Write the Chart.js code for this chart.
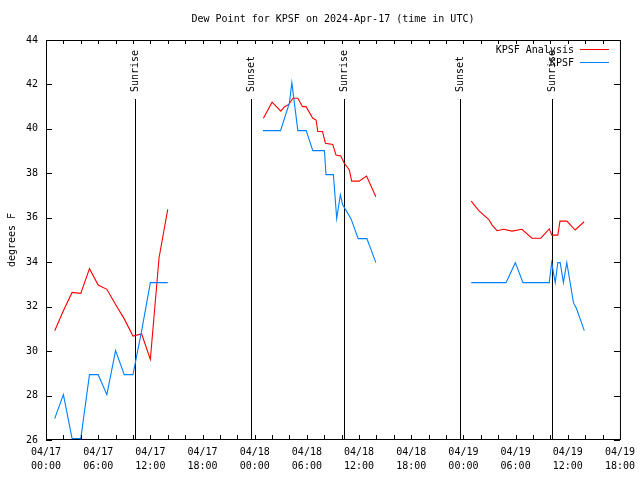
<!DOCTYPE html>
<html>
<head>
<meta charset="utf-8">
<script src="https://cdn.jsdelivr.net/npm/chart.js@4/dist/chart.umd.min.js"></script>
<style>
html,body{margin:0;padding:0;background:#fff;}
#wrap{width:640px;height:480px;}
canvas{display:block;}
</style>
</head>
<body>
<div id="wrap"><canvas id="c" width="640" height="480"></canvas></div>
<script>
// ---------------- data ----------------
const chartTitle = 'Dew Point for KPSF on 2024-Apr-17 (time in UTC)';
const yAxisTitle = 'degrees F';
const analysisLabel = 'KPSF Analysis';
const obsLabel = 'KPSF';

// hours since 04/17 00:00 UTC ; null value = gap in the line
const analysisHours = [1,2,3,4,5,6,7,8,9,10,11,12,13,14,
  19,
  25,26,27,27.43,27.93,28.39,28.96,29.5,29.9,30.68,31.06,31.25,31.8,32.13,32.97,33.35,33.9,34.3,34.88,35.15,36.0,36.86,37.93,
  43,
  48.9,49.77,50.34,50.9,51.3,51.87,52.63,53.59,54.73,55.88,56.9,57.87,58.17,58.86,59.1,59.9,60.85,61.88];
const analysisDewF = [30.92,31.82,32.64,32.6,33.71,32.97,32.78,32.1,31.45,30.68,30.77,29.63,34.2,36.38,
  null,
  40.48,41.2,40.8,41.0,41.1,41.38,41.38,41.0,41.0,40.48,40.4,39.88,39.88,39.35,39.3,38.82,38.78,38.45,38.15,37.65,37.65,37.88,36.95,
  null,
  36.75,36.32,36.12,35.93,35.67,35.42,35.48,35.4,35.48,35.08,35.08,35.5,35.22,35.22,35.85,35.85,35.45,35.82];

const obsHours = [1,2,3,4,5,6,7,8,9,10,11,12,13,14,
  19,
  24.95,26.97,28.0,28.27,28.96,29.92,30.68,32.02,32.2,33.05,33.43,33.85,34.1,35.07,35.9,36.9,37.93,
  43,
  48.9,52.9,53.97,54.85,57.87,58.15,58.56,58.85,59.13,59.5,59.89,60.65,61.0,61.9];
const obsDewF = [26.96,28.04,26.06,26.06,28.94,28.94,28.04,30.02,28.94,28.94,30.92,33.08,33.08,33.08,
  null,
  39.92,39.92,41.18,42.08,39.92,39.92,39.02,39.02,37.94,37.94,35.96,37.04,36.6,35.96,35.06,35.06,33.98,
  null,
  33.08,33.08,33.98,33.08,33.08,33.98,33.08,33.98,33.98,33.08,33.98,32.18,31.92,30.92];

const eventLabels = ['Sunrise','Sunset','Sunrise','Sunset','Sunrise'];
const eventHours = [10.25, 23.61, 34.24, 47.56, 58.23];

const xTickHours = [0,6,12,18,24,30,36,42,48,54,60,66];
const xTickDates = ['04/17','04/17','04/17','04/17','04/18','04/18','04/18','04/18','04/19','04/19','04/19','04/19'];
const xTickTimes = ['00:00','06:00','12:00','18:00','00:00','06:00','12:00','18:00','00:00','06:00','12:00','18:00'];
const xMinorStep = 2;
const yTickValues = [26,28,30,32,34,36,38,40,42,44];

// ---------------- chart ----------------
const FONT_FAMILY = "'DejaVu Sans Mono', monospace";
Chart.defaults.font.family = FONT_FAMILY;
Chart.defaults.font.size = 10;
Chart.defaults.color = '#000';

function toPoints(xs, ys) { return xs.map((x, i) => ({ x: x, y: ys[i] })); }

const gnuplotFrame = {
  id: 'gnuplotFrame',
  beforeDraw(chart) {
    const ctx = chart.ctx;
    ctx.save();
    ctx.fillStyle = '#fff';
    ctx.fillRect(0, 0, chart.width, chart.height);
    ctx.restore();
  },
  beforeDatasetsDraw(chart) {
    const { ctx, chartArea: a, scales: { x } } = chart;
    ctx.save();
    ctx.strokeStyle = '#000';
    ctx.lineWidth = 1;
    ctx.fillStyle = '#000';
    ctx.font = '10px ' + FONT_FAMILY;
    // title centred over the plot area
    ctx.textAlign = 'center';
    ctx.textBaseline = 'middle';
    ctx.fillText(chartTitle, (a.left + a.right) / 2, a.top - 21);
    eventHours.forEach((h, i) => {
      const px = Math.round(x.getPixelForValue(h)) + 0.5;
      ctx.beginPath();
      ctx.moveTo(px, a.top + 59);
      ctx.lineTo(px, a.bottom);
      ctx.stroke();
      ctx.save();
      ctx.translate(px, a.top + 52);
      ctx.rotate(-Math.PI / 2);
      ctx.textAlign = 'left';
      ctx.textBaseline = 'middle';
      ctx.fillText(eventLabels[i], 0, 0);
      ctx.restore();
    });
    ctx.restore();
  },
  afterDatasetsDraw(chart) {
    const { ctx, chartArea: a, scales: { x, y } } = chart;
    ctx.save();
    ctx.strokeStyle = '#000';
    ctx.lineWidth = 1;
    // frame
    ctx.strokeRect(a.left + 0.5, a.top + 0.5, a.right - a.left, a.bottom - a.top - 1);
    // x ticks (inward, top & bottom)
    ctx.beginPath();
    for (let h = x.min; h <= x.max; h += xMinorStep) {
      const px = Math.round(x.getPixelForValue(h)) + 0.5;
      ctx.moveTo(px, a.bottom); ctx.lineTo(px, a.bottom - 5);
      ctx.moveTo(px, a.top); ctx.lineTo(px, a.top + 4);
    }
    // y ticks (inward, left & right)
    yTickValues.forEach(v => {
      const py = Math.round(y.getPixelForValue(v)) + 0.5;
      ctx.moveTo(a.left, py); ctx.lineTo(a.left + 6, py);
      ctx.moveTo(a.right, py); ctx.lineTo(a.right - 6, py);
    });
    ctx.stroke();
    // legend (gnuplot style, text then sample line)
    ctx.font = '10px ' + FONT_FAMILY;
    ctx.fillStyle = '#000';
    ctx.textAlign = 'right';
    ctx.textBaseline = 'middle';
    chart.data.datasets.forEach((ds, i) => {
      const yy = a.top + 9.5 + i * 13;
      ctx.fillText(ds.label, a.right - 46, yy + 0.5);
      ctx.strokeStyle = ds.borderColor;
      ctx.beginPath();
      ctx.moveTo(a.right - 40, yy);
      ctx.lineTo(a.right - 11, yy);
      ctx.stroke();
    });
    ctx.restore();
  }
};

new Chart(document.getElementById('c').getContext('2d'), {
  type: 'line',
  data: {
    datasets: [
      { label: analysisLabel, data: toPoints(analysisHours, analysisDewF), borderColor: '#ff0000',
        borderWidth: 1.1, pointRadius: 0, tension: 0, spanGaps: false, fill: false, order: 1 },
      { label: obsLabel, data: toPoints(obsHours, obsDewF), borderColor: '#0080ff',
        borderWidth: 1.1, pointRadius: 0, tension: 0, spanGaps: false, fill: false, order: 0 }
    ]
  },
  options: {
    responsive: false,
    animation: false,
    devicePixelRatio: 1,
    layout: { padding: { left: 0, right: 19, top: 40, bottom: 0 } },
    plugins: {
      legend: { display: false },
      tooltip: { enabled: false },
      title: { display: false }
    },
    scales: {
      x: {
        type: 'linear', min: 0, max: 66,
        grid: { display: false, drawTicks: false },
        border: { display: false },
        afterBuildTicks: s => { s.ticks = xTickHours.map(v => ({ value: v })); },
        afterFit: s => { s.height = 40; },
        ticks: {
          autoSkip: false, maxRotation: 0, minRotation: 0, padding: 5,
          font: { size: 10, lineHeight: 1.4 },
          callback: (v, i) => [xTickDates[i], xTickTimes[i]]
        }
      },
      y: {
        type: 'linear', min: 26, max: 44,
        grid: { display: false, drawTicks: false },
        border: { display: false },
        afterBuildTicks: s => { s.ticks = yTickValues.map(v => ({ value: v })); },
        afterFit: s => { s.width = 46; },
        ticks: { padding: 8, font: { size: 10 }, callback: v => String(v) },
        title: { display: true, text: yAxisTitle, padding: { top: 6, bottom: 0 }, font: { size: 10 } }
      }
    }
  },
  plugins: [gnuplotFrame]
});
</script>
</body>
</html>
